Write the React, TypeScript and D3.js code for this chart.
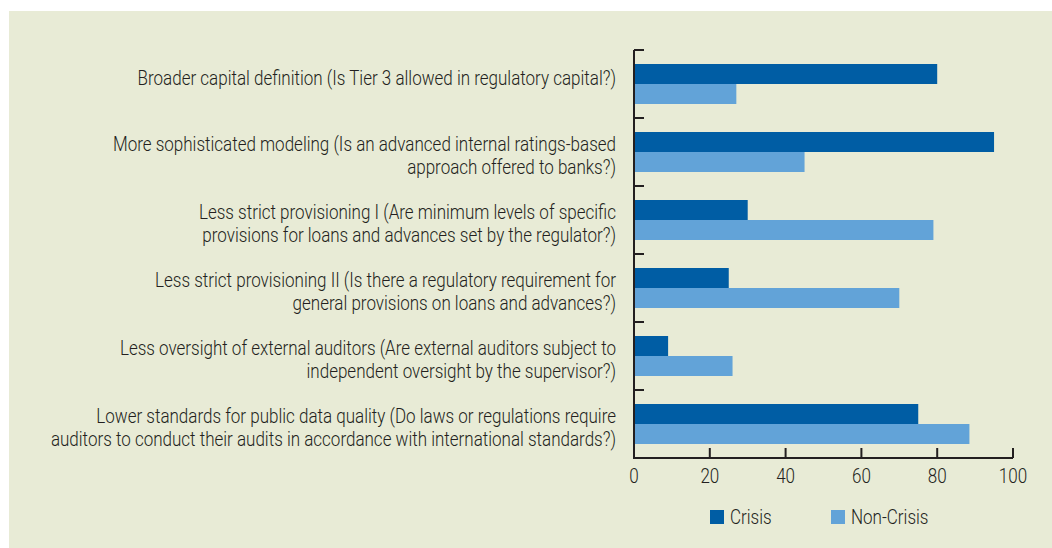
import React, { useEffect, useRef } from "react";
import * as d3 from "d3";

const categoryLines: string[][] = [
  ["Broader capital definition (Is Tier 3 allowed in regulatory capital?)"],
  ["More sophisticated modeling (Is an advanced internal ratings-based", "approach offered to banks?)"],
  ["Less strict provisioning I (Are minimum levels of specific", "provisions for loans and advances set by the regulator?)"],
  ["Less strict provisioning II (Is there a regulatory requirement for", "general provisions on loans and advances?)"],
  ["Less oversight of external auditors (Are external auditors subject to", "independent oversight by the supervisor?)"],
  ["Lower standards for public data quality (Do laws or regulations require", "auditors to conduct their audits in accordance with international standards?)"],
];
const categories = categoryLines.map((l) => l.join(" "));
const crisis = [80, 95, 30, 25, 9, 75];
const nonCrisis = [27, 45, 79, 70, 26, 88.5];
const seriesNames = ["Crisis", "Non-Crisis"];
const xTicks = [0, 20, 40, 60, 80, 100];

const COLORS = ["#005da4", "#62a3d8"];
const BG = "#e8ebd6";
const INK = "#231f20";
const FONT = "Roboto, 'Liberation Sans', sans-serif";
const FS = 20;
const FW = 300;

export default function App() {
  const ref = useRef<SVGSVGElement>(null);
  useEffect(() => {
    const svg = d3.select(ref.current as SVGSVGElement);
    svg.selectAll("*").remove();
    svg.append("rect").attr("x", 9).attr("y", 11).attr("width", 1043).attr("height", 537).attr("fill", BG);

    const x = d3.scaleLinear().domain([0, 100]).range([634, 1013]);
    const y = d3.scaleBand<string>().domain(categories).range([50, 458]);
    const sub = d3.scaleBand<string>().domain(seriesNames).range([0, y.bandwidth()]).paddingOuter(0.7);

    const probe = svg.append("text").attr("font-family", FONT).attr("font-size", FS).attr("font-weight", FW).text(categoryLines[0][0]);
    const natural = (probe.node() as SVGTextElement).getComputedTextLength();
    probe.remove();
    const k = 479 / natural;

    const series = [crisis, nonCrisis];
    series.forEach((vals, si) => {
      svg.append("g")
        .selectAll("rect")
        .data(vals)
        .join("rect")
        .attr("x", x(0))
        .attr("y", (_, i) => (y(categories[i]) as number) + (sub(seriesNames[si]) as number))
        .attr("width", (d) => x(d) - x(0))
        .attr("height", sub.bandwidth())
        .attr("fill", COLORS[si]);
    });

    // y axis
    const ax = svg.append("g").attr("stroke", INK).attr("stroke-width", 2).attr("fill", "none");
    ax.append("path").attr("d", `M${x(0)},50V${y.range()[1]}`);
    categories.forEach((c) => {
      const yy = y(c) as number;
      ax.append("path").attr("d", `M${x(0)},${yy}H${x(0) + 10}`);
    });
    // x axis
    ax.append("path").attr("d", `M${x(0) - 1},${y.range()[1]}H${x(100)}`);
    xTicks.forEach((t) => {
      ax.append("path").attr("d", `M${x(t)},${y.range()[1]}V${y.range()[1] - 10}`);
    });

    const txt = (g: any) =>
      g.append("text").attr("font-family", FONT).attr("font-size", FS).attr("font-weight", FW).attr("fill", INK);

    xTicks.forEach((t) => {
      const g = svg.append("g").attr("transform", `translate(${x(t)},483) scale(${k},1)`);
      txt(g).attr("text-anchor", "middle").text(String(t));
    });

    // category labels
    categoryLines.forEach((lines, i) => {
      const c = (y(categories[i]) as number) + y.bandwidth() / 2;
      const base = lines.length === 1 ? c + 1 : c - 1;
      lines.forEach((ln, j) => {
        const g = svg.append("g").attr("transform", `translate(616,${base + j * 23}) scale(${k},1)`);
        txt(g).attr("text-anchor", "end").text(ln);
      });
    });

    // legend
    const legX = [710, 831];
    seriesNames.forEach((s, i) => {
      svg.append("rect").attr("x", legX[i]).attr("y", 510).attr("width", 14).attr("height", 14).attr("fill", COLORS[i]);
      const g = svg.append("g").attr("transform", `translate(${legX[i] + 20},524) scale(${k},1)`);
      txt(g).text(s);
    });
  }, []);
  return <svg ref={ref} width={1052} height={548} style={{ position: "absolute", left: 0, top: 0 }} />;
}
